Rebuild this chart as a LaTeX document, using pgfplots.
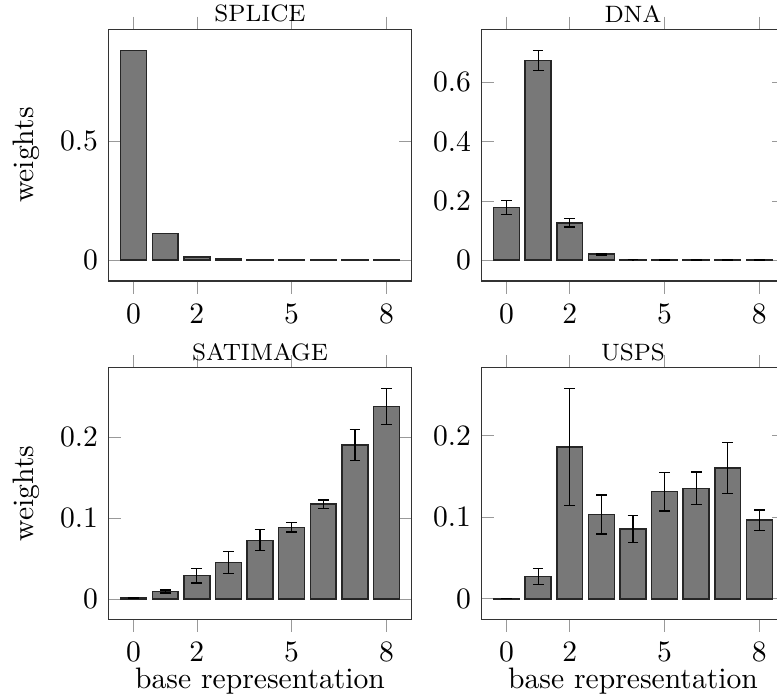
\documentclass[border=0pt]{standalone}
\usepackage{pgfplots}
\pgfplotsset{compat=1.18}
\usepgfplotslibrary{groupplots}
\pgfplotstableread{
x y e
0 0.881 0
1 0.112 0
2 0.014 0
3 0.004 0
4 0.001 0
5 0.0006 0
6 0.0006 0
7 0.0006 0
8 0.0006 0
}\splice
\pgfplotstableread{
x y e
0 0.177 0.024
1 0.674 0.034
2 0.126 0.014
3 0.020 0.003
4 0.002 0.0005
5 0.0006 0
6 0.0006 0
7 0.0006 0
8 0.0006 0
}\dna
\pgfplotstableread{
x y e
0 0.0012 0.0005
1 0.0091 0.002
2 0.0286 0.009
3 0.0451 0.0135
4 0.0725 0.013
5 0.0886 0.006
6 0.1172 0.005
7 0.1905 0.019
8 0.2381 0.022
}\satimage
\pgfplotstableread{
x y e
0 0.0006 0
1 0.0275 0.0098
2 0.1857 0.0717
3 0.1033 0.0238
4 0.0852 0.0166
5 0.1311 0.0238
6 0.1352 0.020
7 0.1602 0.0316
8 0.0963 0.0125
}\usps
\begin{document}
\begin{tikzpicture}[mybar/.style={fill=black!53, draw=black!85, line width=0.5pt}]
\begin{groupplot}[
  group style={group size=2 by 2, horizontal sep=23.5pt, vertical sep=29.3pt},
  scale only axis, width=102.5pt, height=85pt,
  enlargelimits=0.1,
  xtick={0,2,5,8},
  ybar, /pgf/bar width=0.82,
  tick style={black!40},
  xtick align=outside,
  axis line style={black!80},
  every axis title/.style={at={(0.5,1)}, anchor=south, yshift=-1.2pt, font=\footnotesize},
  xlabel style={yshift=4.5pt},
  error bars/error bar style={black, line width=0.45pt},
  error bars/error mark options={rotate=90, black, mark size=1.8pt, line width=0.45pt},
]
\nextgroupplot[title={SPLICE}, ylabel={weights}]
\addplot[mybar] table[x=x,y=y] {\splice};
\nextgroupplot[title={DNA}]
\addplot[mybar, error bars/.cd, y dir=both, y explicit] table[x=x,y=y,y error=e] {\dna};
\nextgroupplot[title={SATIMAGE}, ylabel={weights}, xlabel={base representation}]
\addplot[mybar, error bars/.cd, y dir=both, y explicit] table[x=x,y=y,y error=e] {\satimage};
\nextgroupplot[title={USPS}, xlabel={base representation}]
\addplot[mybar, error bars/.cd, y dir=both, y explicit] table[x=x,y=y,y error=e] {\usps};
\end{groupplot}
\pgfresetboundingbox
\path (group c1r1.north west) ++(-36.6pt,9.9pt) rectangle ++(262.5pt,-236.1pt);
\end{tikzpicture}
\end{document}
